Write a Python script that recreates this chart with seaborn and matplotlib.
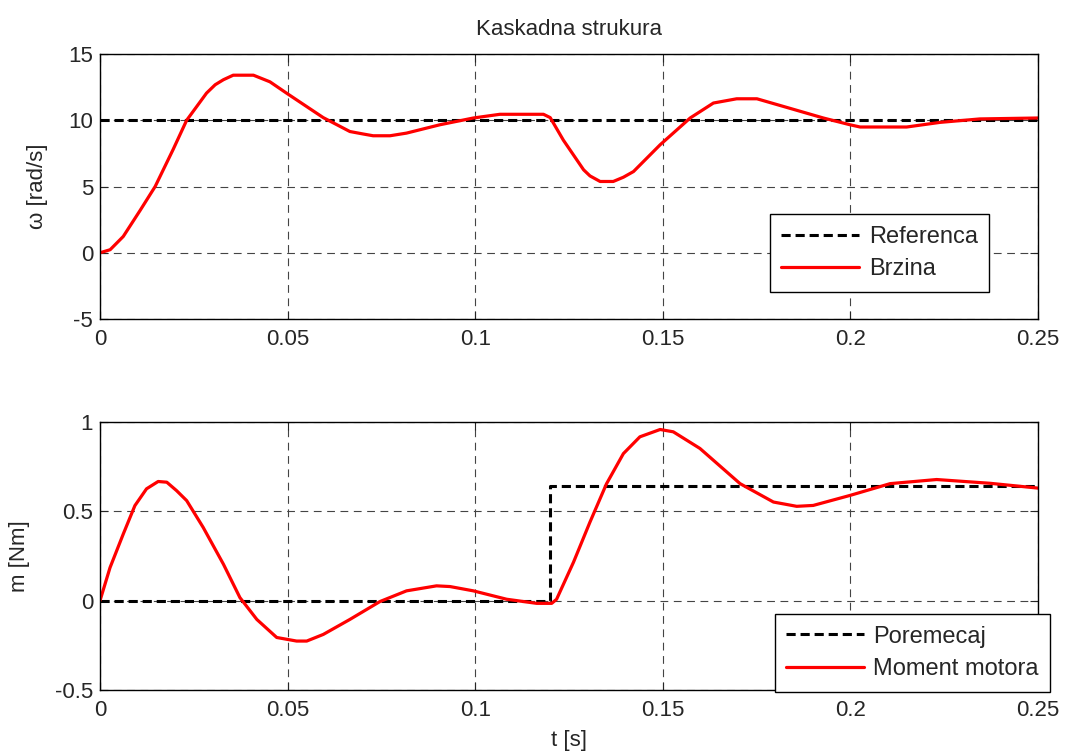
import numpy as np
import pandas as pd
import matplotlib
matplotlib.use('Agg')
import matplotlib.pyplot as plt
import seaborn as sns

# speed response
t_speed = [0, 0.0027, 0.0062, 0.0107, 0.0147, 0.0195, 0.0231, 0.0284, 0.0307, 0.0329, 0.0355,
           0.0409, 0.0453, 0.0497, 0.0542, 0.0595, 0.0666, 0.0702, 0.0728, 0.0773, 0.0817,
           0.0906, 0.0995, 0.1066, 0.1182, 0.12, 0.1235, 0.1289, 0.1306, 0.1333, 0.1368,
           0.1395, 0.1422, 0.1493, 0.1573, 0.1635, 0.1697, 0.1751, 0.1839, 0.1928, 0.1999,
           0.2026, 0.215, 0.2239, 0.2345, 0.25]
w_speed = [0, 0.23, 1.23, 3.2, 5.0, 7.8, 10.0, 12.05, 12.68, 13.06, 13.4,
           13.4, 12.9, 12.05, 11.2, 10.2, 9.15, 8.96, 8.83, 8.83, 9.03,
           9.66, 10.17, 10.45, 10.45, 10.2, 8.5, 6.26, 5.8, 5.38, 5.38,
           5.7, 6.13, 8.15, 10.17, 11.3, 11.62, 11.62, 10.9, 10.17, 9.66,
           9.49, 9.49, 9.84, 10.1, 10.17]
t_ref = [0, 0.25]
w_ref = [10, 10]

# torque response
t_torque = [0, 0.00267, 0.0062, 0.0093, 0.0124, 0.0155, 0.0178, 0.0204, 0.0231, 0.0275,
            0.0329, 0.0373, 0.0418, 0.0471, 0.0524, 0.0551, 0.0595, 0.0666, 0.0746, 0.0817,
            0.0897, 0.0933, 0.0995, 0.1084, 0.1164, 0.1204, 0.1217, 0.1262, 0.1306, 0.135,
            0.1395, 0.1439, 0.1493, 0.1528, 0.1599, 0.1706, 0.1795, 0.1857, 0.1901, 0.1999,
            0.2106, 0.223, 0.2372, 0.25]
m_torque = [0, 0.185, 0.373, 0.532, 0.626, 0.667, 0.663, 0.616, 0.56, 0.41,
            0.204, 0.017, -0.105, -0.206, -0.226, -0.226, -0.189, -0.105, -0.005, 0.055,
            0.083, 0.079, 0.055, 0.008, -0.015, -0.015, 0.008, 0.215, 0.44, 0.654,
            0.823, 0.917, 0.958, 0.945, 0.852, 0.655, 0.552, 0.528, 0.533, 0.589,
            0.655, 0.678, 0.657, 0.63]
t_dist = [0, 0.12, 0.12, 0.25]
m_dist = [0, 0, 0.64, 0.64]

xticks = [0, 0.05, 0.1, 0.15, 0.2, 0.25]
xticklabels = ['0', '0.05', '0.1', '0.15', '0.2', '0.25']
yticks_top = [-5, 0, 5, 10, 15]
yticks_bot = [-0.5, 0, 0.5, 1]
yticklabels_bot = ['-0.5', '0', '0.5', '1']

sns.set_style('ticks')
plt.rcParams['font.family'] = ['Liberation Sans', 'DejaVu Sans']
plt.rcParams['axes.unicode_minus'] = False
FS = 16

fig = plt.figure(figsize=(10.65, 7.51), dpi=100)
ax1 = fig.add_axes([0.0939, 0.5752, 0.8807, 0.3529])
ax2 = fig.add_axes([0.0939, 0.0812, 0.8807, 0.3569])

def style(ax):
    ax.set_xlim(0, 0.25)
    ax.set_xticks(xticks)
    ax.set_xticklabels(xticklabels)
    ax.grid(True, color='#444444', linestyle=(0, (7, 5)), linewidth=0.8)
    ax.tick_params(direction='in', top=True, right=True, labelsize=FS, length=6, width=0.8)
    ax.tick_params(axis='x', pad=7)
    ax.tick_params(axis='y', pad=5)
    for s in ax.spines.values():
        s.set_linewidth(1.0)
        s.set_color('black')
        s.set_visible(True)

def legend(ax, anchor):
    leg = ax.legend(loc='lower right', bbox_to_anchor=anchor, fontsize=17, frameon=True,
                    fancybox=False, edgecolor='black', framealpha=1, handlelength=3.3,
                    borderpad=0.48, labelspacing=0.45, borderaxespad=0, handletextpad=0.4)
    leg.get_frame().set_linewidth(1.0)
    leg.get_lines()[0].set_dashes((3, 1.6))
    return leg

sns.lineplot(x=t_ref, y=w_ref, ax=ax1, color='black', linestyle='--', linewidth=2.2, label='Referenca')
sns.lineplot(x=t_speed, y=w_speed, ax=ax1, color='#ff0000', linewidth=2.3, label='Brzina')
ax1.lines[0].set_dashes((3, 1.6))
style(ax1)
ax1.set_ylim(-5, 15)
ax1.set_yticks(yticks_top)
ax1.set_ylabel('ω [rad/s]', fontsize=FS)
ax1.yaxis.set_label_coords(-0.055, 0.5)
ax1.set_xlabel('')
ax1.set_title('Kaskadna strukura', fontsize=FS, pad=14)
legend(ax1, (0.948, 0.103))

sns.lineplot(x=t_dist, y=m_dist, ax=ax2, color='black', linestyle='--', linewidth=2.2,
             label='Poremecaj', sort=False, estimator=None)
sns.lineplot(x=t_torque, y=m_torque, ax=ax2, color='#ff0000', linewidth=2.3, label='Moment motora')
ax2.lines[0].set_dashes((3, 1.6))
style(ax2)
ax2.set_ylim(-0.5, 1)
ax2.set_yticks(yticks_bot)
ax2.set_yticklabels(yticklabels_bot)
ax2.set_ylabel('m [Nm]', fontsize=FS)
ax2.yaxis.set_label_coords(-0.075, 0.5)
ax2.set_xlabel('t [s]', fontsize=FS)
ax2.xaxis.set_label_coords(0.5, -0.15)
legend(ax2, (1.013, -0.006))

fig.savefig('out.png', dpi=100)
